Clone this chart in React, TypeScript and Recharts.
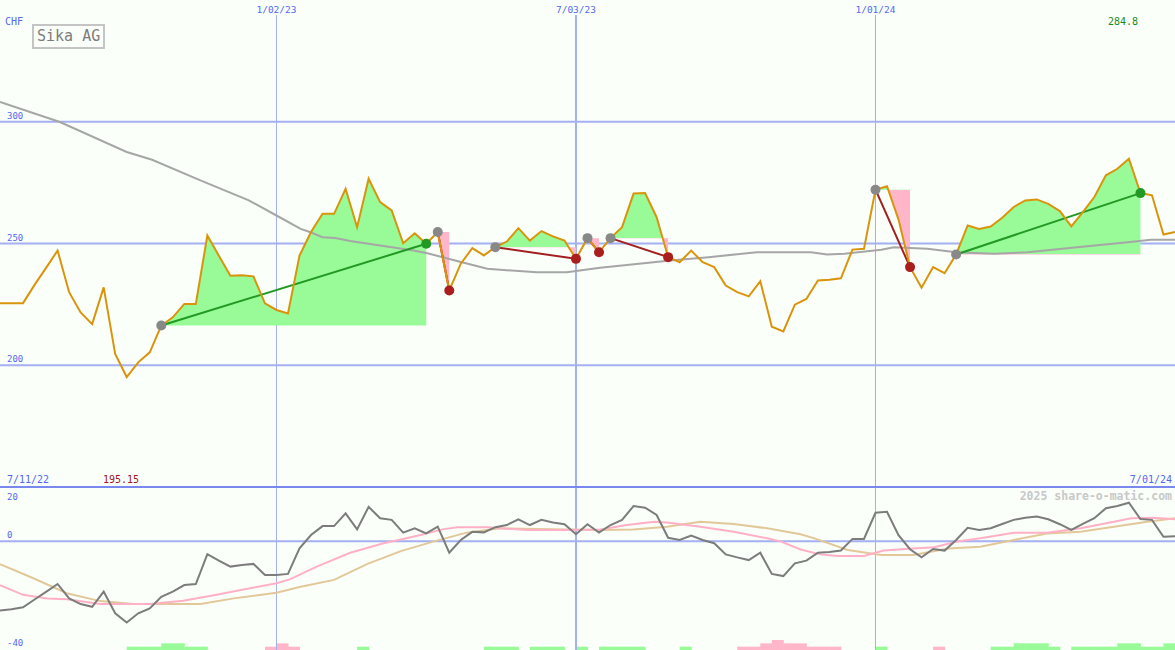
import React from 'react';
import {
  ComposedChart,
  BarChart,
  Bar,
  Cell,
  Line,
  Area,
  XAxis,
  YAxis,
  CartesianGrid,
  ReferenceLine,
  ReferenceDot,
} from 'recharts';

const W = 1175;
const TOP_H = 487;
const BOT_H = 163;
const BG = '#fafffa';
const BLUE = '#5468f0';
const GRID = '#a4b0f2';
const PRICE = '#d9940c';
const MA = '#a6a6a6';
const GREEN_FILL = '#98fb98';
const PINK_FILL = '#ffb6c8';
const MONO = '"DejaVu Sans Mono", "Liberation Mono", monospace';

// weekly closes in CHF, week 0 = 7/11/22
const prices = [
  225.5, 225.5, 225.5, 233, 240, 247.1, 230, 221.7, 216.9, 232,
  204.6, 195.15, 201.2, 205.3, 216.3, 219.7, 225.2, 225.2, 253.3, 245,
  236.8, 237, 236.5, 225.4, 222.7, 221.3, 245, 254.7, 262.2, 262.2,
  272.5, 256.7, 276.6, 267, 263.6, 250.1, 254.2, 249.9, 254.7, 230.7,
  241.7, 248.1, 245.1, 248.5, 250.8, 256.3, 251.2, 255.1, 252.9, 251.2,
  243.7, 252.2, 246.4, 252.2, 256.7, 270.5, 270.7, 260.8, 244.4, 242.3,
  247.1, 242.3, 240.3, 232.7, 230, 228.3, 234.5, 215.8, 213.9, 224.9,
  227.2, 234.8, 235.1, 235.7, 247.5, 247.8, 272.1, 273.5, 259.8, 240.3,
  231.8, 240.3, 237.8, 245.5, 257.4, 256, 257, 260.6, 265, 267.7,
  268.1, 266.3, 263.3, 257, 262.9, 269.1, 278, 280.7, 284.8, 270.7,
  269.8, 253.7, 254.7,
];

// long moving average (grey)
const maWeeks = [0, 5.2, 11, 13.2, 17.4, 21.6, 24, 26.1, 26.9, 28, 29.1, 30.4, 33, 35.9, 37.1, 40.1, 42.3, 46.6, 49.2, 52.1, 58.2, 61.5, 65.7, 70.4, 71.8, 73.3, 76.5, 77.6, 80.5, 83, 86.3, 89.2, 93.5, 97.9, 99.9, 102];
const maValues = [308.1, 299.9, 287.6, 284.4, 275.9, 267.7, 261.5, 256, 254.7, 252.6, 252.3, 251, 249.2, 247.1, 246, 242.3, 239.6, 238.2, 238.2, 240, 243, 244.4, 246.4, 246.4, 245.5, 245.8, 247.4, 248.5, 247.8, 246.4, 245.8, 246.4, 248.5, 250.5, 251.5, 251.5];

// trades: entry / exit weeks
const entryWeeks = [14, 38, 43, 51, 53, 76, 83];
const exitWeeks = [37, 39, 50, 52, 58, 79, 99];

// momentum oscillator (dark grey), weekly
const oscillator = [
  -25.5, -25, -24.3, -21.4, -18.6, -15.7, -21, -23.1, -24.1, -18.5,
  -26.5, -29.9, -26.5, -24.7, -20.4, -18.5, -16.1, -15.7, -4.7, -7.1,
  -9.3, -8.7, -8.3, -12.4, -12.4, -12, -2.6, 2.3, 5.6, 5.6,
  10.3, 4.4, 12.7, 8.5, 7.9, 3.2, 4.8, 2.9, 5.4, -4.2,
  0.5, 3.5, 3.3, 5.2, 6, 8.1, 6, 7.9, 6.9, 6.3,
  2.6, 6.3, 3.2, 6, 7.9, 13, 12.4, 9.7, 1.3, 0.5,
  2.1, 0.5, -0.7, -4.8, -5.9, -6.9, -4.2, -12, -12.8, -8.1,
  -7.1, -4.2, -3.9, -3.4, 0.9, 0.9, 10.5, 10.9, 2.3, -2.9,
  -5.9, -2.8, -3.4, 0.5, 5, 4.2, 4.8, 6.4, 7.9, 8.7,
  9.1, 8.1, 6.3, 4.2, 6.4, 8.5, 12.2, 13, 14.2, 8.2,
  7.9, 1.7, 1.9,
];

// fast signal (pink)
const pinkWeeks = [0, 2, 4.1, 5.8, 8.7, 13, 15.9, 18.8, 21.7, 24, 25.2, 27.5, 30.4, 33.3, 34.8, 36.5, 38.5, 39.7, 42.4, 43.4, 45.8, 49.2, 52.1, 54.4, 56.8, 57.9, 60.8, 63.7, 66.6, 67.8, 69.5, 71.2, 72.7, 75, 76.7, 79.3, 81.1, 83.1, 85.1, 88, 90.9, 93.8, 96.7, 98.2, 100.2, 102];
const pinkValues = [-16.1, -19.7, -21, -21.3, -23.1, -23.1, -21.9, -19.7, -17.3, -15.4, -13.9, -9.3, -4.2, -0.7, 0.7, 2.3, 4.5, 5.2, 5.2, 4.8, 4.2, 4.2, 4.4, 6, 7.2, 6.9, 5.4, 3.5, 1.1, -0.1, -3, -4.8, -5.4, -5.4, -3.4, -2.6, -2.2, -0.1, 1.1, 3.2, 3.2, 4.8, 7.2, 8.5, 8.7, 8.1];

// slow signal (tan)
const tanWeeks = [0, 2.9, 5.8, 8.7, 11.6, 17.4, 20.3, 24, 26.1, 29, 31.9, 34.8, 37.6, 40.5, 43.4, 49.2, 52.1, 55, 57.9, 60.8, 63.7, 66.6, 69.5, 70.7, 73.6, 76.5, 79.3, 82.3, 85.1, 88, 90.9, 93.8, 96.7, 99.6, 102];
const tanValues = [-8.4, -13.6, -19.1, -22, -23.1, -23.1, -21, -18.9, -16.7, -14.2, -8.3, -3.6, -0.1, 3.2, 4.8, 4.4, 4.2, 4.4, 5.4, 7.2, 6.4, 4.8, 2.6, 1.1, -3.2, -5, -5, -2.6, -2, 0.5, 2.9, 3.5, 5.4, 7.2, 8.5];

// buy / sell pressure blocks at the bottom (+ green, - pink)
const signalWeeks = [11, 12, 13, 14, 15, 16, 17, 23, 24, 25, 31, 42, 43, 44, 46, 47, 48, 50, 52, 53, 54, 55, 59, 64, 65, 66, 67, 68, 69, 70, 71, 72, 76, 81, 86, 87, 88, 89, 90, 91, 93, 94, 95, 96, 97, 98, 99, 100, 101];
const signalValues = [1, 1, 1, 2, 2, 1, 1, -1, -2, -1, 1, 1, 1, 1, 1, 1, 1, 1, 1, 1, 1, 1, 1, -1, -1, -2, -3, -2, -2, -1, -1, -1, 1, -1, 1, 1, 2, 2, 2, 1, 1, 1, 1, 1, 2, 2, 1, 1, 2];

const dateTicks = [24, 50, 76];
const dateLabels = ['1/02/23', '7/03/23', '1/01/24'];
const priceTicks = [200, 250, 300];

const noMargin = { top: 0, right: 0, bottom: 0, left: 0 };

const DateLabel = ({ viewBox, value }: any) => (
  <g>
    <rect x={viewBox.x - 22} y={0} width={44} height={15} fill={BG} />
    <text x={viewBox.x} y={13} textAnchor="middle" fill={BLUE} fontSize={9.5} fontFamily={MONO}>
      {value}
    </text>
  </g>
);

const valueLabel = (dy: number) => ({ viewBox, value }: any) => (
  <text x={7} y={viewBox.y + dy} fill={BLUE} fontSize={9} fontFamily={MONO}>
    {value}
  </text>
);

export default function App() {
  const priceRows = prices.map((p, w) => {
    const row: Record<string, number> = { w, p };
    entryWeeks.forEach((e, k) => {
      if (w >= e && w <= exitWeeks[k]) row['t' + k] = p;
    });
    return row;
  });
  const maRows = maWeeks.map((w, i) => ({ w, v: maValues[i] }));
  const oscRows = oscillator.map((v, w) => ({ w, v }));
  const pinkRows = pinkWeeks.map((w, i) => ({ w, v: pinkValues[i] }));
  const tanRows = tanWeeks.map((w, i) => ({ w, v: tanValues[i] }));
  const sigRows = Array.from({ length: 102 }, (_, w) => {
    const i = signalWeeks.indexOf(w);
    const s = i >= 0 ? signalValues[i] : 0;
    return { w, h: Math.abs(s), s };
  });

  const trades = entryWeeks.map((e, k) => {
    const x = exitWeeks[k];
    const level = prices[e];
    const seg = prices.slice(e, x + 1);
    const hi = Math.max(...seg, level);
    const lo = Math.min(...seg, level);
    return {
      e,
      x,
      level,
      exitPrice: prices[x],
      win: prices[x] > level,
      off: hi === lo ? 0 : (hi - level) / (hi - lo),
    };
  });

  return (
    <div style={{ position: 'absolute', left: 0, top: 0, width: W, height: 650, background: BG, overflow: 'hidden' }}>
      <div style={{ position: 'absolute', left: 0, top: 0 }}>
        <ComposedChart width={W} height={TOP_H} data={priceRows} margin={noMargin}>
          <defs>
            {trades.map((t, k) => (
              <linearGradient key={k} id={'tg' + k} x1="0" y1="0" x2="0" y2="1">
                <stop offset={t.off} stopColor={GREEN_FILL} />
                <stop offset={t.off} stopColor={PINK_FILL} />
              </linearGradient>
            ))}
          </defs>
          <XAxis type="number" dataKey="w" domain={[0, 102]} hide allowDataOverflow />
          <YAxis type="number" domain={[150, 350]} hide allowDataOverflow />
          <CartesianGrid horizontal={false} verticalValues={[24, 76]} stroke={GRID} strokeWidth={1} />
          <CartesianGrid horizontal={false} verticalValues={[50]} stroke={GRID} strokeWidth={2} />
          <CartesianGrid vertical={false} horizontalValues={priceTicks} stroke={GRID} strokeWidth={2} />
          {trades.map((t, k) => (
            <Area
              key={'a' + k}
              dataKey={'t' + k}
              baseValue={t.level}
              stroke="none"
              fill={`url(#tg${k})`}
              fillOpacity={1}
              dot={false}
              activeDot={false}
              isAnimationActive={false}
            />
          ))}
          <Line data={maRows} dataKey="v" stroke={MA} strokeWidth={2} dot={false} activeDot={false} isAnimationActive={false} />
          {trades.map((t, k) => (
            <ReferenceLine
              key={'s' + k}
              segment={[{ x: t.e, y: t.level }, { x: t.x, y: t.exitPrice }]}
              stroke={t.win ? '#229922' : '#a31f1f'}
              strokeWidth={2}
            />
          ))}
          <Line dataKey="p" stroke={PRICE} strokeWidth={2} dot={false} activeDot={false} isAnimationActive={false} />
          {trades.map((t, k) => (
            <ReferenceDot key={'e' + k} x={t.e} y={t.level} r={5} fill="#888888" stroke="none" />
          ))}
          {trades.map((t, k) => (
            <ReferenceDot key={'x' + k} x={t.x} y={t.exitPrice} r={5} fill={t.win ? '#229922' : '#aa1e1e'} stroke="none" />
          ))}
          {dateTicks.map((d, i) => (
            <ReferenceLine key={'d' + i} x={d} stroke="none" label={{ value: dateLabels[i], content: DateLabel }} />
          ))}
          {priceTicks.map((v) => (
            <ReferenceLine key={'v' + v} y={v} stroke="none" label={{ value: String(v), content: valueLabel(-3) }} />
          ))}
        </ComposedChart>
      </div>

      <div style={{ position: 'absolute', left: 0, top: TOP_H }}>
        <BarChart width={W} height={BOT_H} data={sigRows} margin={noMargin} barCategoryGap={0}>
          <XAxis dataKey="w" hide />
          <YAxis type="number" domain={[0, 49]} hide allowDataOverflow />
          <Bar dataKey="h" isAnimationActive={false}>
            {sigRows.map((r, i) => (
              <Cell key={i} fill={r.s > 0 ? GREEN_FILL : PINK_FILL} />
            ))}
          </Bar>
        </BarChart>
      </div>

      <div style={{ position: 'absolute', left: 0, top: TOP_H }}>
        <ComposedChart width={W} height={BOT_H} data={oscRows} margin={noMargin}>
          <XAxis type="number" dataKey="w" domain={[0, 102]} hide allowDataOverflow />
          <YAxis type="number" domain={[-40, 20]} hide allowDataOverflow />
          <CartesianGrid horizontal={false} verticalValues={[24, 76]} stroke={GRID} strokeWidth={1} />
          <CartesianGrid horizontal={false} verticalValues={[50]} stroke={GRID} strokeWidth={2} />
          <CartesianGrid vertical={false} horizontalValues={[0]} stroke={GRID} strokeWidth={2} />
          <Line data={tanRows} dataKey="v" stroke="#e2c898" strokeWidth={2} dot={false} activeDot={false} isAnimationActive={false} />
          <Line data={pinkRows} dataKey="v" stroke="#ffb0c6" strokeWidth={2} dot={false} activeDot={false} isAnimationActive={false} />
          <Line dataKey="v" stroke="#7c7c7c" strokeWidth={2} dot={false} activeDot={false} isAnimationActive={false} />
          <ReferenceLine y={20} stroke="none" label={{ value: '20', content: valueLabel(13) }} />
          <ReferenceLine y={0} stroke="none" label={{ value: '0', content: valueLabel(-3) }} />
          <ReferenceLine y={-40} stroke="none" label={{ value: '-40', content: valueLabel(-4) }} />
        </ComposedChart>
      </div>

      <div style={{ position: 'absolute', left: 0, top: 486, width: W, height: 2, background: '#7888ee' }} />

      <svg width={W} height={650} style={{ position: 'absolute', left: 0, top: 0, pointerEvents: 'none' }}>
        <text x={5} y={25} fill={BLUE} fontSize={10} fontFamily={MONO}>CHF</text>
        <rect x={33} y={25} width={71} height={23} fill="none" stroke="#c4c4c4" strokeWidth={2} />
        <text x={37} y={41} fill="#7c7c7c" fontSize={15} fontFamily={MONO}>Sika AG</text>
        <text x={1108} y={25} fill="#1a8a1a" fontSize={10} fontFamily={MONO}>{Math.max(...prices).toFixed(1)}</text>
        <text x={7} y={483} fill={BLUE} fontSize={10} fontFamily={MONO}>7/11/22</text>
        <text x={103} y={483} fill="#a01818" fontSize={10} fontFamily={MONO}>{Math.min(...prices).toFixed(2)}</text>
        <text x={1172} y={483} textAnchor="end" fill={BLUE} fontSize={10} fontFamily={MONO}>7/01/24</text>
        <text x={1172} y={500} textAnchor="end" fill="#c8c8c8" fontSize={11.5} fontWeight="bold" fontFamily={MONO}>
          2025 share-o-matic.com
        </text>
      </svg>
    </div>
  );
}
